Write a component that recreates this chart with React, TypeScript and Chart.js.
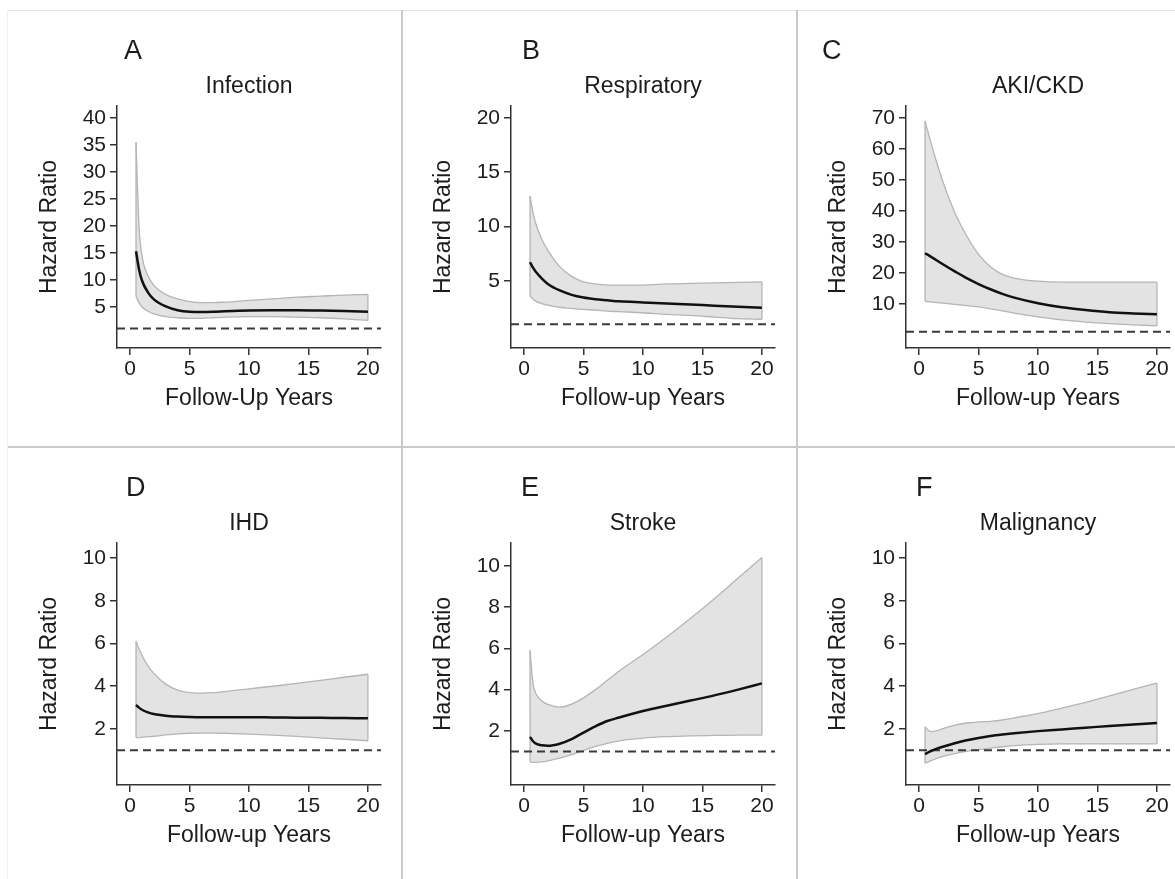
import { useEffect, useRef } from 'react';
import { Chart, registerables } from 'chart.js';

Chart.register(...registerables);

// ---------- data ----------
const YEARS = [0.5, 0.75, 1, 1.5, 2, 3, 4, 5, 6, 7, 8, 10, 12, 14, 16, 18, 20];
const X_TICKS = [0, 5, 10, 15, 20];
const X_MIN = -1.1;
const X_MAX = 21.1;
const REF_LINE = 1;

const infectionHR = [15.3, 12.0, 9.9, 7.7, 6.4, 5.1, 4.4, 4.1, 4.05, 4.1, 4.2, 4.35, 4.4, 4.4, 4.35, 4.25, 4.1];
const infectionHi = [35.5, 20.0, 14.5, 10.8, 9.0, 7.3, 6.5, 6.0, 5.8, 5.8, 5.9, 6.2, 6.5, 6.8, 7.0, 7.2, 7.3];
const infectionLo = [7.0, 5.8, 5.0, 4.2, 3.7, 3.2, 3.0, 2.9, 2.9, 3.0, 3.1, 3.2, 3.2, 3.1, 3.0, 2.8, 2.5];
const infectionYTicks = [5, 10, 15, 20, 25, 30, 35, 40];

const respHR = [6.7, 6.2, 5.8, 5.2, 4.7, 4.1, 3.7, 3.45, 3.3, 3.2, 3.1, 3.0, 2.9, 2.8, 2.7, 2.6, 2.5];
const respHi = [12.8, 11.3, 10.2, 8.8, 7.8, 6.3, 5.4, 4.9, 4.7, 4.6, 4.6, 4.6, 4.7, 4.75, 4.8, 4.85, 4.9];
const respLo = [3.6, 3.3, 3.1, 2.9, 2.75, 2.55, 2.45, 2.35, 2.3, 2.2, 2.15, 2.05, 1.9, 1.8, 1.65, 1.5, 1.45];
const respYTicks = [5, 10, 15, 20];

const akiHR = [26.3, 25.8, 25.2, 24.0, 22.8, 20.5, 18.3, 16.4, 14.7, 13.2, 12.0, 10.2, 8.9, 8.0, 7.3, 6.9, 6.6];
const akiHi = [69, 65.5, 62, 55.5, 49.5, 39.5, 32, 26, 22, 19.5, 18.3, 17.3, 17, 17, 17, 17, 17];
const akiLo = [10.8, 10.7, 10.6, 10.4, 10.2, 9.8, 9.4, 9.0, 8.4, 7.7, 7.0, 5.8, 4.8, 4.1, 3.6, 3.2, 2.9];
const akiYTicks = [10, 20, 30, 40, 50, 60, 70];

const ihdHR = [3.13, 3.0, 2.9, 2.78, 2.7, 2.62, 2.58, 2.56, 2.55, 2.55, 2.55, 2.55, 2.54, 2.53, 2.52, 2.51, 2.5];
const ihdHi = [6.1, 5.75, 5.45, 4.95, 4.6, 4.1, 3.82, 3.7, 3.68, 3.7, 3.75, 3.88, 4.0, 4.13, 4.27, 4.42, 4.56];
const ihdLo = [1.6, 1.6, 1.62, 1.64, 1.66, 1.72, 1.77, 1.8, 1.81, 1.81, 1.8, 1.76, 1.71, 1.65, 1.58, 1.52, 1.45];
const smallYTicks = [2, 4, 6, 8, 10];

const strokeHR = [1.71, 1.5, 1.38, 1.3, 1.28, 1.38, 1.6, 1.92, 2.22, 2.48, 2.65, 2.96, 3.22, 3.47, 3.72, 4.0, 4.3];
const strokeHi = [5.9, 4.3, 3.8, 3.45, 3.28, 3.15, 3.3, 3.6, 4.0, 4.45, 4.9, 5.7, 6.55, 7.45, 8.4, 9.4, 10.4];
const strokeLo = [0.5, 0.48, 0.48, 0.5, 0.55, 0.68, 0.85, 1.05, 1.25, 1.4, 1.52, 1.65, 1.72, 1.76, 1.78, 1.8, 1.8];

const maligHR = [0.82, 0.9, 0.97, 1.08, 1.17, 1.33, 1.47, 1.58, 1.67, 1.74, 1.8, 1.9, 1.98, 2.06, 2.14, 2.21, 2.28];
const maligHi = [2.1, 1.95, 1.88, 1.92, 2.02, 2.18, 2.28, 2.33, 2.36, 2.42, 2.52, 2.72, 2.98, 3.25, 3.55, 3.85, 4.15];
const maligLo = [0.4, 0.45, 0.52, 0.63, 0.72, 0.85, 0.95, 1.03, 1.1, 1.17, 1.22, 1.28, 1.3, 1.3, 1.3, 1.3, 1.3];

// ---------- layout / style ----------
const FONT = '"Liberation Sans", Arial, Helvetica, sans-serif';
const TEXT = '#1c1c1c';
const AXIS = '#333333';
const BAND_FILL = '#e3e3e3';
const BAND_EDGE = '#b5b5b5';

const CANVAS_H = 440;
const AREA_LEFT = 117;
const AREA_RIGHT = 381;
const AREA_TOP = 106;
const AREA_BOTTOM = 348;
const TICK_SIZE = 21;
const TITLE_SIZE = 23;
const TITLE_HALF = (TITLE_SIZE * 1.2) / 2;

type Panel = {
  letter: string;
  letterX: number;
  title: string;
  xTitle: string;
  hr: number[];
  lo: number[];
  hi: number[];
  yTicks: number[];
  yMin: number;
  yMax: number;
  left: number;
  top: number;
  width: number;
};

const PANELS: Panel[] = [
  { letter: 'A', letterX: 124, title: 'Infection', xTitle: 'Follow-Up Years', hr: infectionHR, lo: infectionLo, hi: infectionHi, yTicks: infectionYTicks, yMin: -2.6, yMax: 42.2, left: 0, top: 0, width: 392 },
  { letter: 'B', letterX: 128, title: 'Respiratory', xTitle: 'Follow-up Years', hr: respHR, lo: respLo, hi: respHi, yTicks: respYTicks, yMin: -1.2, yMax: 21.1, left: 394, top: 0, width: 392 },
  { letter: 'C', letterX: 33, title: 'AKI/CKD', xTitle: 'Follow-up Years', hr: akiHR, lo: akiLo, hi: akiHi, yTicks: akiYTicks, yMin: -4.27, yMax: 73.9, left: 789, top: 0, width: 386 },
  { letter: 'D', letterX: 126, title: 'IHD', xTitle: 'Follow-up Years', hr: ihdHR, lo: ihdLo, hi: ihdHi, yTicks: smallYTicks, yMin: -0.62, yMax: 10.7, left: 0, top: 437, width: 392 },
  { letter: 'E', letterX: 127, title: 'Stroke', xTitle: 'Follow-up Years', hr: strokeHR, lo: strokeLo, hi: strokeHi, yTicks: smallYTicks, yMin: -0.62, yMax: 11.1, left: 394, top: 437, width: 392 },
  { letter: 'F', letterX: 127, title: 'Malignancy', xTitle: 'Follow-up Years', hr: maligHR, lo: maligLo, hi: maligHi, yTicks: smallYTicks, yMin: -0.62, yMax: 10.7, left: 789, top: 437, width: 386 },
];

const letterPlugin = {
  id: 'panelLetter',
  afterDraw(chart: any, _args: any, opts: any) {
    const ctx = chart.ctx;
    ctx.save();
    ctx.font = `27px ${FONT}`;
    ctx.fillStyle = TEXT;
    ctx.textBaseline = 'alphabetic';
    ctx.textAlign = 'left';
    ctx.fillText(opts.text, opts.x, opts.y);
    ctx.restore();
  },
};

function PanelChart({ p }: { p: Panel }) {
  const ref = useRef<HTMLCanvasElement | null>(null);
  useEffect(() => {
    if (!ref.current) return;
    const pts = (ys: number[]) => YEARS.map((x, i) => ({ x, y: ys[i] }));
    const last = YEARS.length - 1;
    const bandLine = {
      borderColor: BAND_EDGE,
      borderWidth: 1.3,
      pointRadius: 0,
      fill: false,
      cubicInterpolationMode: 'monotone' as const,
    };
    const chart = new Chart(ref.current, {
      type: 'line',
      data: {
        datasets: [
          {
            data: pts(p.hr),
            borderColor: '#111111',
            borderWidth: 2.5,
            pointRadius: 0,
            fill: false,
            cubicInterpolationMode: 'monotone',
          },
          {
            data: [
              { x: X_MIN, y: REF_LINE },
              { x: X_MAX, y: REF_LINE },
            ],
            borderColor: '#3a3a3a',
            borderWidth: 2,
            borderDash: [8, 5],
            pointRadius: 0,
            fill: false,
          },
          { ...bandLine, data: pts(p.hi), fill: '+1', backgroundColor: BAND_FILL },
          { ...bandLine, data: pts(p.lo) },
          {
            ...bandLine,
            data: [
              { x: YEARS[0], y: p.lo[0] },
              { x: YEARS[0], y: p.hi[0] },
            ],
          },
          {
            ...bandLine,
            data: [
              { x: YEARS[last], y: p.lo[last] },
              { x: YEARS[last], y: p.hi[last] },
            ],
          },
        ] as any,
      },
      options: {
        animation: false,
        responsive: false,
        maintainAspectRatio: false,
        events: [],
        layout: { padding: { left: 0, top: 0, right: p.width - AREA_RIGHT, bottom: 0 } },
        plugins: {
          legend: { display: false },
          tooltip: { enabled: false },
          filler: { drawTime: 'beforeDatasetsDraw' },
          title: {
            display: true,
            text: p.title,
            fullSize: false,
            color: TEXT,
            font: { family: FONT, size: TITLE_SIZE, weight: 'normal' },
            padding: { top: 87 - TITLE_HALF, bottom: AREA_TOP - (87 - TITLE_HALF) - 2 * TITLE_HALF },
          },
          panelLetter: { text: p.letter, x: p.letterX, y: 59 },
        } as any,
        scales: {
          x: {
            type: 'linear',
            min: X_MIN,
            max: X_MAX,
            afterBuildTicks: (s: any) => {
              s.ticks = X_TICKS.map((v) => ({ value: v }));
            },
            afterFit: (s: any) => {
              s.height = CANVAS_H - AREA_BOTTOM;
            },
            grid: { display: true, drawOnChartArea: false, drawTicks: true, tickLength: 7, color: AXIS, lineWidth: 1.5 },
            border: { display: true, color: AXIS, width: 1.5 },
            ticks: { color: TEXT, font: { family: FONT, size: TICK_SIZE }, padding: 2, maxRotation: 0, autoSkip: false },
            title: {
              display: true,
              text: p.xTitle,
              color: TEXT,
              font: { family: FONT, size: TITLE_SIZE },
              padding: { top: 0, bottom: 441 - 400 - TITLE_HALF },
            },
          },
          y: {
            type: 'linear',
            min: p.yMin,
            max: p.yMax,
            afterBuildTicks: (s: any) => {
              s.ticks = p.yTicks.map((v) => ({ value: v }));
            },
            afterFit: (s: any) => {
              s.width = AREA_LEFT;
            },
            grid: { display: true, drawOnChartArea: false, drawTicks: true, tickLength: 7, color: AXIS, lineWidth: 1.5 },
            border: { display: true, color: AXIS, width: 1.5 },
            ticks: { color: TEXT, font: { family: FONT, size: TICK_SIZE }, padding: 4, autoSkip: false },
            title: {
              display: true,
              text: 'Hazard Ratio',
              color: TEXT,
              font: { family: FONT, size: TITLE_SIZE },
              padding: { top: 50 - TITLE_HALF, bottom: 0 },
            },
          },
        },
      } as any,
      plugins: [letterPlugin],
    });
    return () => chart.destroy();
  }, [p]);

  return (
    <canvas
      ref={ref}
      width={p.width}
      height={CANVAS_H}
      style={{ position: 'absolute', left: p.left, top: p.top, width: p.width, height: CANVAS_H }}
    />
  );
}

const lineStyle = (s: any) => ({ position: 'absolute' as const, ...s });

export default function App() {
  return (
    <div
      style={{
        position: 'fixed',
        left: 0,
        top: 0,
        width: 1175,
        height: 879,
        background: '#ffffff',
        overflow: 'hidden',
      }}
    >
      <div style={lineStyle({ left: 8, top: 10, width: 1167, height: 1, background: '#e4e4e4' })} />
      <div style={lineStyle({ left: 7, top: 10, width: 1, height: 869, background: '#f0f0f0' })} />
      <div style={lineStyle({ left: 401, top: 10, width: 2, height: 869, background: '#c9c9c9' })} />
      <div style={lineStyle({ left: 796, top: 10, width: 2, height: 869, background: '#c9c9c9' })} />
      <div style={lineStyle({ left: 8, top: 446, width: 1167, height: 2, background: '#c9c9c9' })} />
      {PANELS.map((p) => (
        <PanelChart key={p.letter} p={p} />
      ))}
    </div>
  );
}
